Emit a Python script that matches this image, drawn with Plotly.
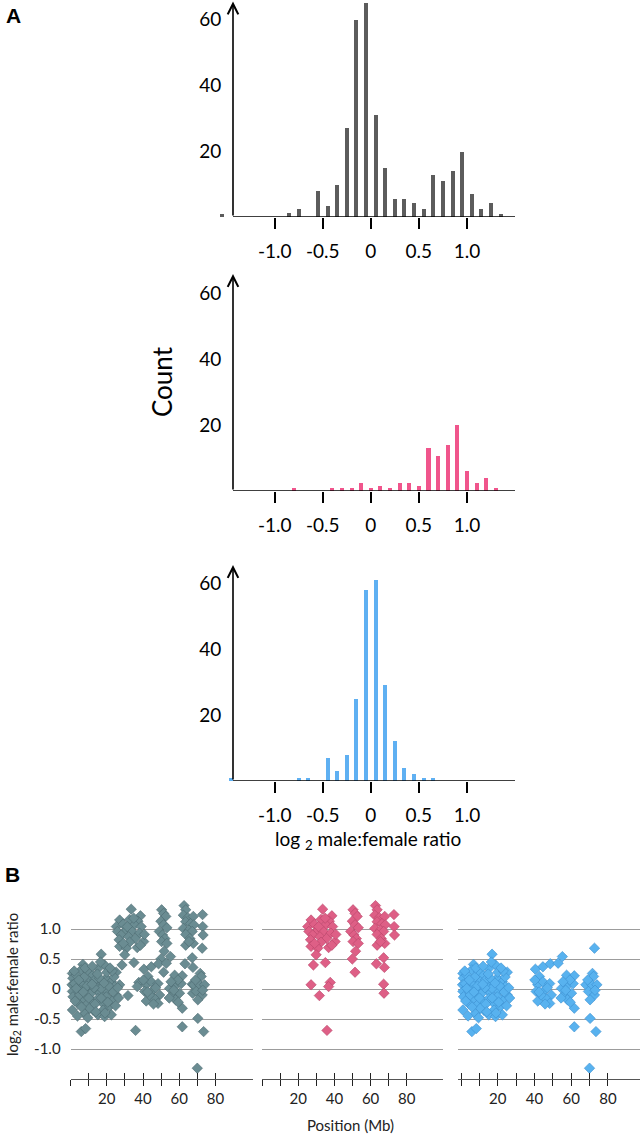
import plotly.graph_objects as go

# ---------------- Data ----------------
# Panel A histograms (bin centres in log2 ratio, counts)
gray_bins = [-1.55, -0.85, -0.75, -0.55, -0.45, -0.35, -0.25, -0.15, -0.05, 0.05, 0.15,
             0.25, 0.35, 0.45, 0.55, 0.65, 0.75, 0.85, 0.95, 1.05, 1.15, 1.25, 1.35]
gray_counts = [1, 1.5, 2.5, 8, 3.5, 10, 27, 60, 65, 31, 15,
               5.5, 5.5, 4.5, 2.5, 13, 11, 14, 20, 7, 2.5, 4.5, 1]

pink_bins = [-0.8, -0.4, -0.3, -0.2, -0.1, 0.0, 0.1, 0.2, 0.3, 0.4, 0.5,
             0.6, 0.7, 0.8, 0.9, 1.0, 1.1, 1.2, 1.3]
pink_counts = [1, 1, 1, 1, 2.5, 1, 1.5, 1, 2.5, 2.5, 1.5,
               13, 10.5, 14, 20, 6, 2.5, 4, 1]

blue_bins = [-1.45, -0.75, -0.65, -0.45, -0.35, -0.25, -0.15, -0.05, 0.05, 0.15, 0.25,
             0.35, 0.45, 0.55, 0.65]
blue_counts = [1, 1, 1, 7, 3, 8, 25, 58, 61, 29, 12, 4, 2, 1, 1]

hist_ticks = [-1.0, -0.5, 0, 0.5, 1.0]
hist_ticktext = ["-1.0", "-0.5", "0", "0.5", "1.0"]
count_ticks = [20, 40, 60]

# Panel B scatter (position Mb, log2 ratio)
pink_pos = [33.5, 27.1, 32.6, 38.6, 37.2, 25.3, 29.0, 35.3, 39.0, 30.8, 25.9, 33.9, 38.1,
            28.0, 32.0, 35.7, 26.8, 32.6, 40.4, 27.1, 36.8, 38.6, 30.8, 29.9, 35.0, 28.4,
            27.1, 37.7, 36.8, 31.7, 35.9, 34.9, 31.3, 40.8, 29.1,
            50.3, 51.4, 52.6, 49.9, 51.4, 53.2, 49.0, 50.8, 52.1, 50.3, 53.2, 51.7, 49.9, 51.4,
            62.7, 63.6, 62.3, 72.9, 64.8, 67.8, 63.6, 66.3, 68.1, 73.0, 62.3, 65.4, 67.2,
            73.2, 63.6, 65.9, 67.8, 63.6, 65.4, 67.2, 63.2, 67.6, 67.2, 67.4]
pink_ratio = [1.33, 1.15, 1.16, 1.22, 1.13, 1.04, 1.08, 1.07, 1.04, 0.98, 0.96, 0.96, 0.93,
              0.90, 0.87, 0.84, 0.82, 0.78, 0.79, 0.71, 0.69, 0.73, 0.68, 0.57, 0.44, 0.40,
              0.07, 0.11, 0.04, -0.11, -0.69, 1.18, 1.04, 0.91, 0.76,
              1.32, 1.26, 1.21, 1.13, 1.07, 1.02, 0.96, 0.90, 0.84, 0.79, 0.76, 0.63, 0.50, 0.28,
              1.39, 1.32, 1.23, 1.24, 1.19, 1.21, 1.12, 1.09, 1.07, 1.04, 1.01, 0.98, 0.96,
              0.90, 0.91, 0.84, 0.76, 0.73, 0.79, 0.52, 0.42, 0.36, 0.08, -0.07]

blue_pos = [16.9, 18.8, 25.2, 6.8, 15.1, 1.0, 1.2, 5.9, 9.6, 12.3, 19.7, 22.5, 0.8, 2.2, 6.8,
            10.5, 14.2, 17.9, 24.3, 1.0, 5.0, 8.7, 12.3, 16.0, 20.6, 25.2, 1.3, 6.8, 11.4,
            15.1, 22.5, 4.1, 8.7, 17.9, 21.5, 1.0, 7.7, 12.3, 15.1, 18.8, 22.5, 5.9, 8.3, 3.1,
            13.3, 16.9, 5.0, 19.7, 10.5, 16.0, 3.1,
            7.5, 9.0, 11.0, 13.5, 14.8, 18.0, 20.0, 21.0, 23.5, 24.0, 2.5, 4.5, 6.0, 8.0, 10.0,
            12.0, 13.0, 17.0, 19.0, 23.0, 26.0, 3.8, 9.5, 11.8, 14.0, 20.5, 24.8, 2.0, 7.0,
            16.5, 18.5, 21.8, 26.5,
            40.5, 44.6, 48.6, 52.9, 55.2, 42.7, 41.8, 44.6, 48.3, 40.9, 45.5, 49.2, 41.8, 46.3,
            48.3, 43.6, 40.2, 47.0, 42.5, 45.8,
            57.5, 61.7, 54.7, 58.4, 61.1, 56.5, 60.2, 58.0, 61.7, 61.7, 59.3, 55.5, 57.0, 59.5,
            54.5,
            72.7, 71.6, 72.2, 68.0, 71.3, 74.0, 69.4, 72.7, 70.3, 70.3, 73.5, 70.0, 73.0, 69.0]
blue_ratio = [0.58, 0.40, 0.28, 0.41, 0.34, 0.26, 0.18, 0.32, 0.29, 0.23, 0.18, 0.12, 0.07, 0.09,
              0.07, 0.12, 0.07, 0.09, 0.04, -0.04, -0.02, -0.04, -0.02, -0.07, -0.04, -0.10,
              -0.13, -0.16, -0.18, -0.16, -0.18, -0.24, -0.27, -0.24, -0.29, -0.35, -0.41,
              -0.35, -0.43, -0.46, -0.43, -0.71, -0.66, 0.23, 0.15, 0.01, -0.10, -0.13, -0.32,
              0.18, 0.01,
              0.20, 0.05, -0.08, -0.25, 0.25, -0.35, 0.28, 0.05, -0.05, 0.20, -0.20, 0.15,
              -0.30, 0.35, -0.15, 0.38, 0.02, -0.15, -0.40, 0.30, 0.02, -0.45, -0.48, 0.08,
              -0.38, -0.22, -0.28, 0.30, -0.05, 0.45, 0.10, 0.35, -0.15,
              0.33, 0.37, 0.42, 0.43, 0.54, 0.21, 0.07, 0.12, 0.09, -0.04, -0.02, -0.10, -0.20,
              -0.16, -0.24, -0.10, 0.15, 0.02, -0.05, -0.25,
              0.23, 0.22, 0.01, 0.07, 0.09, -0.10, -0.07, -0.18, -0.32, -0.63, 0.15, 0.12,
              -0.02, -0.22, -0.15,
              0.68, 0.26, 0.21, 0.07, 0.07, 0.07, -0.04, -0.10, -0.18, -0.49, -0.71, -1.32,
              -0.02, 0.15]

# all markers = female-biased + unbiased sets combined
all_pos = pink_pos + blue_pos
all_ratio = pink_ratio + blue_ratio

pos_ticks = [0, 10, 20, 30, 40, 50, 60, 70, 80]
pos_ticktext = ["", "", "20", "", "40", "", "60", "", "80"]
ratio_ticks = [-1.5, -1.0, -0.5, 0, 0.5, 1.0, 1.5]
ratio_ticktext = ["", "-1.0", "-0.5", "0", "0.5", "1.0", ""]

# ---------------- Layout helpers ----------------
W, H = 640, 1139
FONT = "Lato"


def fx(p):
    return p / W


def fy(p):
    return 1 - p / H


fig = go.Figure()

# ---------------- Histograms ----------------
hist_specs = [
    (gray_bins, gray_counts, "#5c5c5c", 217, 1.5),
    (pink_bins, pink_counts, "#f0558c", 491, 274),
    (blue_bins, blue_counts, "#5fb0f2", 781, 565),
]
HX0, HX1 = 217, 515
XRANGE = [-1.6, 1.5]
YAXIS_PX = 233
yaxis_data_x = XRANGE[0] + (YAXIS_PX - HX0) / (HX1 - HX0) * (XRANGE[1] - XRANGE[0])
PX_PER_COUNT = 3.3

for i, (bins, counts, col, base_px, top_px) in enumerate(hist_specs, start=1):
    xa = "x" if i == 1 else f"x{i}"
    ya = "y" if i == 1 else f"y{i}"
    top = (base_px - top_px) / PX_PER_COUNT
    fig.add_trace(go.Bar(x=bins, y=counts, width=0.042, marker=dict(color=col, line=dict(width=0)),
                         xaxis=xa, yaxis=ya, showlegend=False))
    xkey = "xaxis" if i == 1 else f"xaxis{i}"
    ykey = "yaxis" if i == 1 else f"yaxis{i}"
    fig.layout[xkey] = dict(domain=[fx(HX0), fx(HX1)], range=XRANGE, anchor=ya,
                            tickvals=hist_ticks, ticktext=hist_ticktext, ticks="outside",
                            ticklen=11, tickwidth=1.5, tickcolor="black", showline=False,
                            showgrid=False, zeroline=False, ticklabelstandoff=6,
                            tickfont=dict(family=FONT, size=19, color="black"))
    fig.layout[ykey] = dict(domain=[fy(base_px), fy(top_px)], range=[0, top], anchor="free",
                            position=fx(YAXIS_PX), tickvals=count_ticks, ticks="outside",
                            ticklen=8, tickcolor="rgba(0,0,0,0)", showline=False,
                            showgrid=False, zeroline=False,
                            tickfont=dict(family=FONT, size=19, color="black"))
    # baseline from the y axis to the right end
    fig.add_shape(type="line", xref=xa, yref=ya, x0=yaxis_data_x, x1=XRANGE[1], y0=0, y1=0,
                  line=dict(color="black", width=1.6), layer="above")
    # y axis with arrow head
    fig.add_annotation(xref=xa, yref=ya, axref=xa, ayref=ya, x=yaxis_data_x, y=top,
                       ax=yaxis_data_x, ay=0, text="", showarrow=True, arrowhead=5,
                       arrowsize=1.3, arrowwidth=1.6, arrowcolor="black", standoff=0)

# ---------------- Scatter panels ----------------
panels = [
    (all_pos, all_ratio, "#6a8c92", "#4b6a70", 70.6, 253.4, [0, 101]),
    (pink_pos, pink_ratio, "#de5f86", "#b8456a", 262, 443, [0, 100]),
    (blue_pos, blue_ratio, "#58b2ef", "#3a8fd0", 458.3, 640, [-1.5, 97.5]),
]
BY0, BY1 = 1079, 899
for j, (xs, ys, col, lcol, x0, x1, rng) in enumerate(panels):
    n = 4 + j
    xa, ya = f"x{n}", f"y{n}"
    fig.add_trace(go.Scatter(x=xs, y=ys, mode="markers", xaxis=xa, yaxis=ya, showlegend=False,
                             cliponaxis=False,
                             marker=dict(symbol="diamond", size=8, color=col,
                                         line=dict(color=lcol, width=0.6))))
    fig.layout[f"xaxis{n}"] = dict(domain=[fx(x0), fx(x1)], range=rng, anchor=ya,
                                   tickvals=pos_ticks, ticktext=pos_ticktext, ticks="outside",
                                   ticklen=6, tickwidth=1, tickcolor="#222222", showline=True,
                                   linecolor="#555555", linewidth=1, showgrid=False,
                                   zeroline=False,
                                   tickfont=dict(family=FONT, size=15, color="#222222"))
    fig.layout[f"yaxis{n}"] = dict(domain=[fy(BY0), fy(BY1)], range=[-1.5, 1.5], anchor=xa,
                                   tickvals=ratio_ticks, ticktext=ratio_ticktext,
                                   showticklabels=(j == 0), ticks="", showline=False,
                                   showgrid=True, gridcolor="#9c9c9c", gridwidth=1,
                                   zeroline=False, ticklabelstandoff=9,
                                   tickfont=dict(family=FONT, size=15, color="#222222"))
    # overlay axis to draw the upward half of the crossing tick marks
    m = 7 + j
    fig.add_trace(go.Scatter(x=[], y=[], xaxis=f"x{m}", yaxis=ya, showlegend=False))
    fig.layout[f"xaxis{m}"] = dict(overlaying=xa, anchor=ya, range=rng, tickvals=pos_ticks,
                                   ticks="inside", ticklen=6, tickwidth=1, tickcolor="#222222",
                                   showticklabels=False, showline=False, showgrid=False,
                                   zeroline=False)

# ---------------- Text ----------------
fig.add_annotation(xref="paper", yref="paper", x=fx(4), y=fy(16), text="<b>A</b>",
                   showarrow=False, xanchor="left", yanchor="middle",
                   font=dict(family="Liberation Sans", size=21, color="black"))
fig.add_annotation(xref="paper", yref="paper", x=fx(3), y=fy(874), text="<b>B</b>",
                   showarrow=False, xanchor="left", yanchor="middle",
                   font=dict(family="Liberation Sans", size=21, color="black"))
fig.add_annotation(xref="paper", yref="paper", x=fx(162), y=fy(382), text="Count",
                   textangle=-90, showarrow=False, xanchor="center", yanchor="middle",
                   font=dict(family=FONT, size=26, color="black"))
fig.add_annotation(xref="paper", yref="paper", x=fx(368), y=fy(840),
                   text="log <sub>2</sub> male:female ratio", showarrow=False,
                   xanchor="center", yanchor="middle",
                   font=dict(family=FONT, size=19, color="black"))
fig.add_annotation(xref="paper", yref="paper", x=fx(13), y=fy(985),
                   text="log<sub>2</sub> male:female ratio", textangle=-90, showarrow=False,
                   xanchor="center", yanchor="middle",
                   font=dict(family=FONT, size=15, color="#222222"))
fig.add_annotation(xref="paper", yref="paper", x=fx(350), y=fy(1125), text="Position (Mb)",
                   showarrow=False, xanchor="center", yanchor="middle",
                   font=dict(family=FONT, size=15, color="#222222"))

fig.update_layout(width=W, height=H, margin=dict(l=0, r=0, t=0, b=0),
                  paper_bgcolor="white", plot_bgcolor="white", bargap=0,
                  font=dict(family=FONT))

# drop the browser's default 8 px body margin so the figure fills the window exactly
fig.write_html("out.html", config={"displayModeBar": False},
               post_script="document.body.style.margin='0px';")
